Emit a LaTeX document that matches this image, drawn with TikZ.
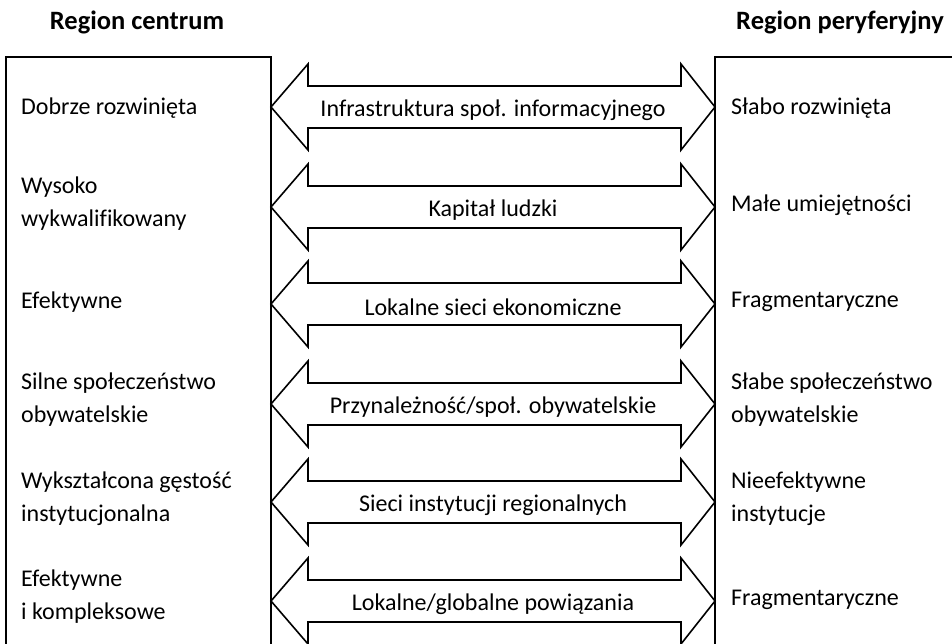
\documentclass[tikz,border=0pt]{standalone}
\usepackage{fontspec}
\setmainfont{Carlito}[Ligatures=NoCommon]
\usetikzlibrary{calc}
\begin{document}
\begin{tikzpicture}[x=1pt,y=-1pt,
  panel/.style={line width=2pt},
  twoway/.style={line width=1.6pt, line join=miter, miter limit=10},
  header/.style={font=\fontsize{26.5}{30}\selectfont\bfseries, inner sep=0pt},
  side/.style={anchor=west, font=\fontsize{24}{33}\selectfont, align=left, inner sep=0pt},
  flow/.style={font=\fontsize{24}{28}\selectfont, inner sep=0pt}
]
\useasboundingbox (0,0) rectangle (952,644);
\clip (0,0) rectangle (952,644);

% column headers
\node[header] (hc) at (137,22) {Region centrum};
\node[header] (hp) at (840,22) {Region peryferyjny};

% the two region panels (open towards the page edges)
\coordinate (lt) at (271,57);
\coordinate (rt) at (715,57);
\draw[panel] (271,660) -- (lt) -- (6,57) -- (6,660);
\draw[panel] (715,660) -- (rt) -- (970,57);

% double-headed arrows between the panels
\foreach \c/\lab [count=\i] in {
  107/{Infrastruktura społ. informacyjnego},
  207/{Kapitał ludzki},
  304/{Lokalne sieci ekonomiczne},
  404/{Przynależność/społ. obywatelskie},
  502/{Sieci instytucji regionalnych},
  601/{Lokalne/globalne powiązania}}
{
  \coordinate (a\i) at (271,\c);
  \coordinate (b\i) at (715,\c);
  \draw[twoway] (a\i) -- ++(37,-43) -- ++(0,22) -- ($(b\i)+(-34,-21)$)
     -- ++(0,-22) -- (b\i) -- ++(-34,43) -- ++(0,-22) -- ($(a\i)+(37,21)$)
     -- ++(0,22) -- cycle;
  \node[flow] (m\i) at ($(a\i)!0.5!(b\i)+(0,3)$) {\lab};
}

% left panel texts
\node[side] (l1) at (21,108) {Dobrze rozwinięta};
\node[side] (l2) at (21,203.5) {Wysoko\\wykwalifikowany};
\node[side] (l3) at (21,302) {Efektywne};
\node[side] (l4) at (21,399.5) {Silne społeczeństwo\\obywatelskie};
\node[side] (l5) at (21,498.5) {Wykształcona gęstość\\instytucjonalna};
\node[side] (l6) at (21,597) {Efektywne\\i kompleksowe};

% right panel texts
\node[side] (r1) at (731,108) {Słabo rozwinięta};
\node[side] (r2) at (731,205) {Małe umiejętności};
\node[side] (r3) at (731,302) {Fragmentaryczne};
\node[side] (r4) at (731,399.5) {Słabe społeczeństwo\\obywatelskie};
\node[side] (r5) at (731,498.5) {Nieefektywne\\instytucje};
\node[side] (r6) at (731,600) {Fragmentaryczne};
\end{tikzpicture}
\end{document}
